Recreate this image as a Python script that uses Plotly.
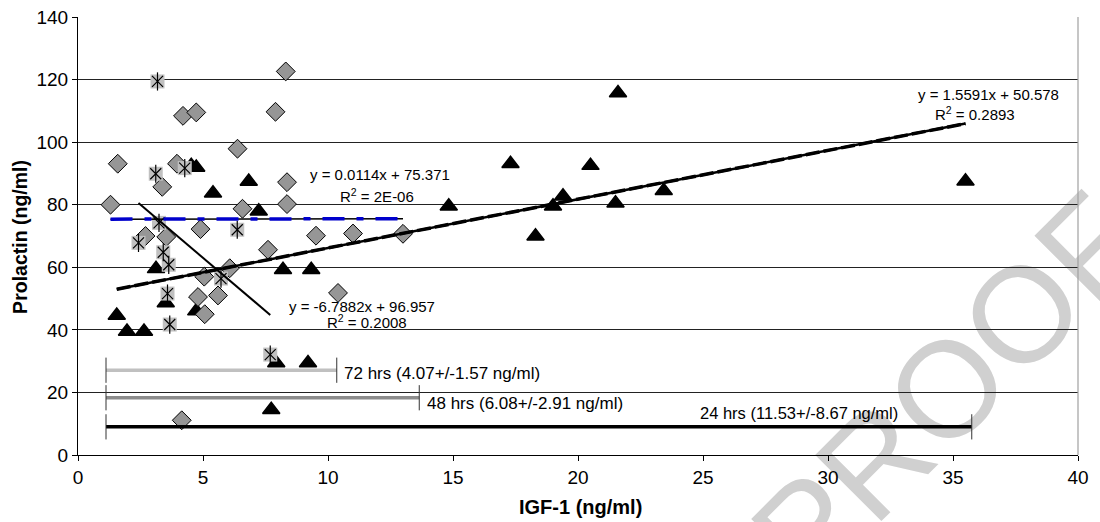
import plotly.graph_objects as go

# ---- data ----
diamond_x = [1.3, 1.59, 2.7, 3.37, 3.53, 3.96, 4.15, 4.2, 4.73, 4.8, 4.9, 5.05, 5.07, 5.6, 6.07, 6.38, 6.58, 7.6, 7.9, 8.31, 8.36, 8.36, 9.52, 10.4, 11.0, 13.0]
diamond_y = [80.0, 93.1, 70.0, 85.7, 69.7, 93.1, 11.1, 108.4, 109.5, 50.5, 72.2, 57.0, 45.0, 51.0, 59.7, 97.9, 78.7, 65.6, 109.7, 122.6, 87.2, 80.2, 70.1, 51.8, 70.8, 70.7]

star_x = [2.42, 3.11, 3.18, 3.24, 3.41, 3.58, 3.63, 3.67, 4.27, 5.72, 6.37, 7.69]
star_y = [67.8, 89.9, 119.4, 74.2, 64.8, 51.6, 60.8, 41.7, 91.7, 56.4, 72.0, 32.1]

tri_x = [1.55, 1.96, 2.64, 3.12, 3.51, 4.53, 4.73, 4.73, 5.4, 6.83, 7.23, 7.73, 7.93, 8.2, 9.2, 9.33, 14.83, 17.3, 18.3, 19.0, 19.4, 20.5, 21.5, 21.6, 23.43, 35.5]
tri_y = [44.6, 39.5, 39.5, 59.5, 48.6, 92.5, 91.9, 46.0, 83.7, 87.4, 77.9, 14.5, 29.4, 59.2, 29.4, 59.2, 79.5, 93.1, 69.9, 79.5, 82.7, 92.5, 80.5, 115.7, 84.5, 87.5]

# trend lines: slope, intercept (as printed on the chart)
trend_diamond = (0.0114, 75.371)
trend_star = (-6.7882, 96.957)
trend_tri = (1.5591, 50.578)

eq_lines = [
    ("y = 0.0114x + 75.371", 12.07, 89.7),
    ("R<sup>2</sup> = 2E-06", 11.97, 83.1),
    ("y = -6.7882x + 96.957", 11.36, 47.6),
    ("R<sup>2</sup> = 0.2008", 11.54, 42.7),
    ("y = 1.5591x + 50.578", 36.43, 115.1),
    ("R<sup>2</sup> = 0.2893", 35.87, 109.0),
]

# range bars at the bottom
bar_labels = ["72 hrs (4.07+/-1.57 ng/ml)", "48 hrs (6.08+/-2.91 ng/ml)", "24 hrs (11.53+/-8.67 ng/ml)"]
bar_start = [1.12, 1.12, 1.12]
bar_end = [10.35, 13.65, 35.75]
bar_level = [27.1, 18.3, 9.0]
bar_colors = ["#c0c0c0", "#8c8c8c", "#000000"]
bar_label_x = [10.55, 13.87, 28.85]
bar_label_y = [26.0, 16.4, 13.4]
bar_label_anchor = ["left", "left", "center"]
bar_label_size = [17, 17, 16.5]

x_ticks = [0, 5, 10, 15, 20, 25, 30, 35, 40]
y_ticks = [0, 20, 40, 60, 80, 100, 120, 140]

FONT = "Arial, Liberation Sans, sans-serif"

fig = go.Figure()

# triangles
fig.add_trace(go.Scatter(x=tri_x, y=tri_y, mode="markers",
                         marker=dict(symbol="triangle-up", size=15, color="black",
                                     line=dict(width=1.5, color="black")), hoverinfo="x+y"))
# diamonds
fig.add_trace(go.Scatter(x=diamond_x, y=diamond_y, mode="markers",
                         marker=dict(symbol="diamond", size=14.5, color="#969696",
                                     line=dict(width=1, color="black")), hoverinfo="x+y"))
# asterisk markers: grey square + star
fig.add_trace(go.Scatter(x=star_x, y=star_y, mode="markers",
                         marker=dict(symbol="square", size=14, color="#c0c0c0",
                                     line=dict(width=0)), hoverinfo="x+y"))
fig.add_trace(go.Scatter(x=star_x, y=star_y, mode="markers",
                         marker=dict(symbol="x-thin-open", size=11, color="black",
                                     line=dict(width=1.2, color="black")), hoverinfo="skip"))
fig.add_trace(go.Scatter(x=star_x, y=star_y, mode="markers",
                         marker=dict(symbol="line-ns-open", size=13, color="black",
                                     line=dict(width=1.2, color="black")), hoverinfo="skip"))

# trend lines
def trend(xs, coef):
    x0, x1 = min(xs), max(xs)
    return [x0, x1], [coef[0] * x0 + coef[1], coef[0] * x1 + coef[1]]

tx, ty = trend(diamond_x, trend_diamond)
fig.add_trace(go.Scatter(x=tx, y=ty, mode="lines", line=dict(color="black", width=1.5), hoverinfo="skip"))
fig.add_trace(go.Scatter(x=tx, y=ty, mode="lines",
                         line=dict(color="#0000cc", width=3.5, dash="22px,12px,7px,12px"), hoverinfo="skip"))

tx, ty = trend(star_x, trend_star)
fig.add_trace(go.Scatter(x=tx, y=ty, mode="lines", line=dict(color="black", width=2), hoverinfo="skip"))

tx, ty = trend(tri_x, trend_tri)
fig.add_trace(go.Scatter(x=tx, y=ty, mode="lines", line=dict(color="black", width=2.5), hoverinfo="skip"))
fig.add_trace(go.Scatter(x=tx, y=ty, mode="lines", line=dict(color="black", width=3.5, dash="14px,4px"), hoverinfo="skip"))

# range bars
for s, e, lv, c in zip(bar_start, bar_end, bar_level, bar_colors):
    fig.add_trace(go.Scatter(x=[s, e], y=[lv, lv], mode="lines", line=dict(color=c, width=3.5), hoverinfo="skip"))
    fig.add_trace(go.Scatter(x=[s, e], y=[lv, lv], mode="markers",
                             marker=dict(symbol="line-ns-open", size=18, color="#333333",
                                         line=dict(width=1, color="#333333")),
                             hoverinfo="skip"))

annotations = []
for txt, x, y in eq_lines:
    annotations.append(dict(x=x, y=y, xref="x", yref="y", text=txt, showarrow=False,
                            xanchor="center", yanchor="middle", font=dict(size=15, color="black", family=FONT)))
for txt, x, y, anc, sz in zip(bar_labels, bar_label_x, bar_label_y, bar_label_anchor, bar_label_size):
    annotations.append(dict(x=x, y=y, xref="x", yref="y", text=txt, showarrow=False,
                            xanchor=anc, yanchor="middle", font=dict(size=sz, color="black", family=FONT)))
annotations.append(dict(x=-0.058, y=0.498, xref="paper", yref="paper", text="<b>Prolactin (ng/ml)</b>",
                        textangle=-90, showarrow=False, xanchor="center", yanchor="middle",
                        font=dict(size=19.5, color="black", family=FONT)))
annotations.append(dict(x=0.502, y=-0.1197, xref="paper", yref="paper", text="<b>IGF-1 (ng/ml)</b>",
                        showarrow=False, xanchor="center", yanchor="middle",
                        font=dict(size=20, color="black", family=FONT)))

shapes = [
    dict(type="line", xref="paper", yref="paper", x0=1, x1=1, y0=0, y1=1,
         line=dict(color="#a0a0a0", width=1.2)),
    dict(type="rect", xref="paper", yref="paper", x0=0.815, x1=0.905, y0=0.122, y1=0.222,
         line=dict(width=0), fillcolor="rgba(0,0,0,0)", layer="below",
         label=dict(text="PROOF", textangle=-45, textposition="middle center",
                    font=dict(size=136, color="#d0d0d0", family=FONT))),
]

fig.update_layout(
    width=1100, height=522,
    margin=dict(l=78, r=22, t=17, b=67, autoexpand=False),
    paper_bgcolor="white", plot_bgcolor="rgba(0,0,0,0)",
    showlegend=False,
    font=dict(family=FONT, color="black"),
    annotations=annotations, shapes=shapes,
    xaxis=dict(range=[0, 40], tickvals=x_ticks, showgrid=False, zeroline=False, automargin=False,
               showline=True, linecolor="black", linewidth=1, ticks="outside", ticklen=5,
               tickcolor="black", tickfont=dict(size=19, color="black", family=FONT)),
    yaxis=dict(range=[0, 140], tickvals=y_ticks, showgrid=True, gridcolor="#222222", gridwidth=1,
               zeroline=False, showline=True, linecolor="black", linewidth=1, ticks="outside",
               automargin=False,
               ticklen=5, tickcolor="black", tickfont=dict(size=19, color="black", family=FONT)),
)

fig.write_html("out.html", config={"displayModeBar": False},
               post_script="document.body.style.margin='0';document.body.style.overflow='hidden';")
